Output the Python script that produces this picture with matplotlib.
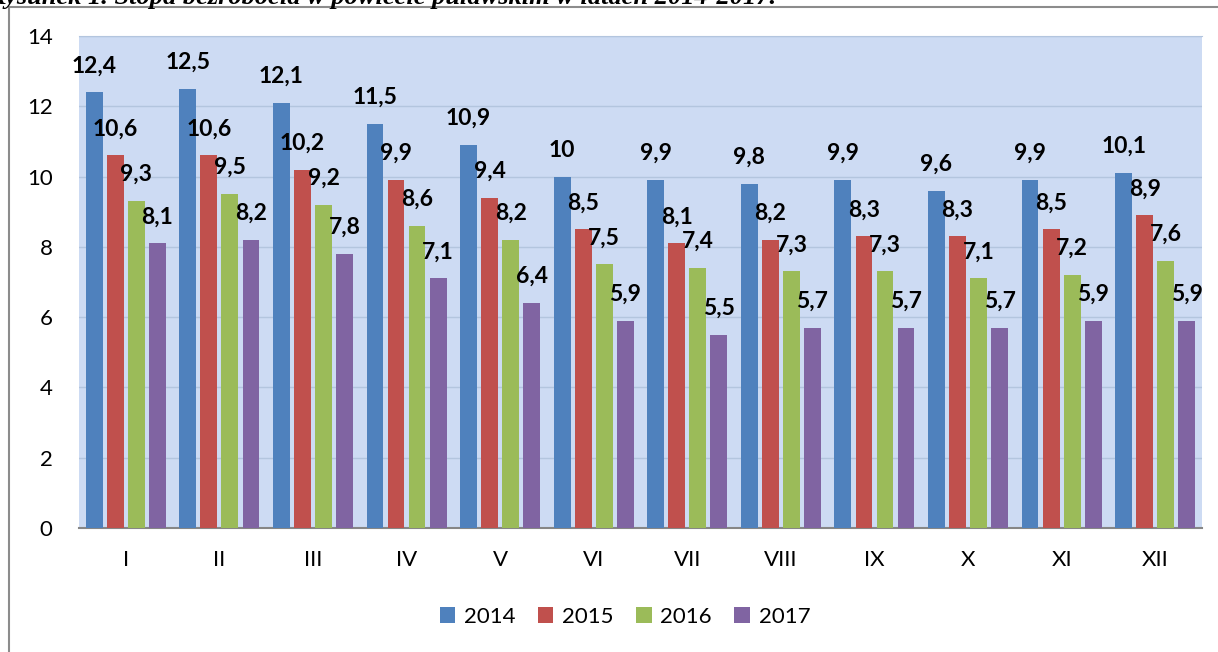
import matplotlib.pyplot as plt
from matplotlib.lines import Line2D

months = ["I", "II", "III", "IV", "V", "VI", "VII", "VIII", "IX", "X", "XI", "XII"]
years = ["2014", "2015", "2016", "2017"]
y2014 = [12.4, 12.5, 12.1, 11.5, 10.9, 10.0, 9.9, 9.8, 9.9, 9.6, 9.9, 10.1]
y2015 = [10.6, 10.6, 10.2, 9.9, 9.4, 8.5, 8.1, 8.2, 8.3, 8.3, 8.5, 8.9]
y2016 = [9.3, 9.5, 9.2, 8.6, 8.2, 7.5, 7.4, 7.3, 7.3, 7.1, 7.2, 7.6]
y2017 = [8.1, 8.2, 7.8, 7.1, 6.4, 5.9, 5.5, 5.7, 5.7, 5.7, 5.9, 5.9]
colors = ["#4f81bd", "#c0504d", "#9bbb59", "#8064a2"]

W, H = 1218, 652
fig = plt.figure(figsize=(W / 100, H / 100), dpi=100)
fig.patch.set_facecolor("white")
ax = fig.add_axes([79 / W, 1 - 528 / H, (1202 - 79) / W, (528 - 36) / H])
ax.set_facecolor("#cddbf3")

step = 0.225
width = 0.18
series = [y2014, y2015, y2016, y2017]
handles = []
for i, (vals, col, yr) in enumerate(zip(series, colors, years)):
    xs = [k + (i - 1.5) * step for k in range(len(months))]
    b = ax.bar(xs, vals, width, color=col, label=yr, zorder=3)
    handles.append(b)
    for x, v in zip(xs, vals):
        ax.annotate(f"{v:g}".replace(".", ","), (x, v), xytext=(0, 20),
                    textcoords="offset pixels", ha="center", va="baseline",
                    fontsize=16.5, fontweight="bold", family="Lato", zorder=5)

ax.set_xlim(-0.5, len(months) - 0.5)
ax.set_ylim(0, 14)
ax.set_yticks(range(0, 15, 2))
ax.set_xticks(range(len(months)))
ax.set_xticklabels(months)
ax.grid(axis="y", color="#b3c5de", lw=1, zorder=1)
ax.tick_params(length=0, labelsize=16)
ax.tick_params(axis="x", pad=16)
ax.tick_params(axis="y", pad=19)
for lab in ax.get_xticklabels() + ax.get_yticklabels():
    lab.set_family("Lato")
for s in ["left", "right"]:
    ax.spines[s].set_visible(False)
ax.spines["top"].set_color("#b3c5de")
ax.spines["bottom"].set_color("#868686")
ax.spines["bottom"].set_linewidth(1.5)

fig.legend(handles=handles, loc="center", bbox_to_anchor=(625 / W, 1 - 617 / H),
           ncol=4, frameon=False, handlelength=0.7, handleheight=0.7,
           columnspacing=1.0, handletextpad=0.4, prop={"family": "Lato", "size": 16})

# outer frame (top and left edges visible)
fig.add_artist(Line2D([9 / W, 1], [1 - 7 / H, 1 - 7 / H], transform=fig.transFigure,
                      color="#8c8c8c", lw=1.5))
fig.add_artist(Line2D([9 / W, 9 / W], [0, 1 - 7 / H], transform=fig.transFigure,
                      color="#8c8c8c", lw=1.5))

# caption cut off at the top of the image
fig.text(-12 / W, 1 - 4 / H, "Rysunek 1. Stopa bezrobocia w powiecie puławskim w latach 2014-2017.",
         family="Liberation Serif", style="italic", fontweight="bold", fontsize=19,
         va="baseline", ha="left")

fig.savefig("out.png", dpi=100)
